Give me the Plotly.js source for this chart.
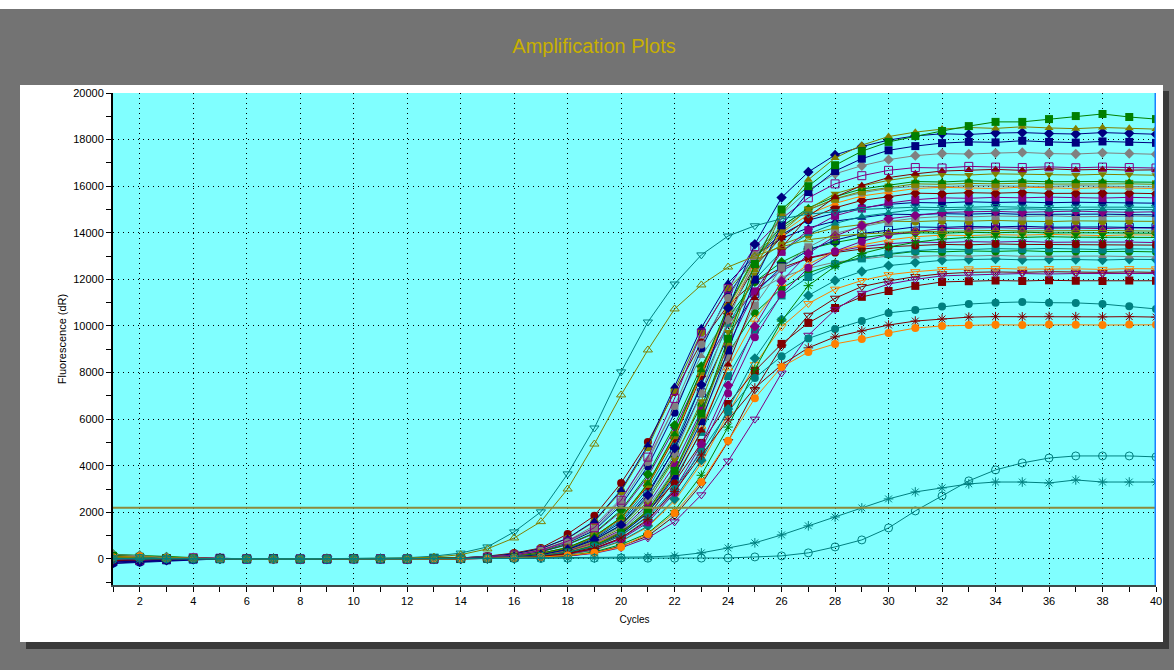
<!DOCTYPE html>
<html>
<head>
<meta charset="utf-8">
<script src="https://cdn.plot.ly/plotly-3.0.1.min.js"></script>
<style>
html,body{margin:0;padding:0;background:#737373;}
#chart{width:1174px;height:670px;}
</style>
</head>
<body>
<div id="chart"></div>
<script>
// ---------- DATA ----------
const cycles = [1,2,3,4,5,6,7,8,9,10,11,12,13,14,15,16,17,18,19,20,21,22,23,24,25,26,27,28,29,30,31,32,33,34,35,36,37,38,39,40];
const xTickVals = [2,4,6,8,10,12,14,16,18,20,22,24,26,28,30,32,34,36,38,40];
const yTickVals = [0,2000,4000,6000,8000,10000,12000,14000,16000,18000,20000];
const THRESHOLD = 2200;

const sGreenSquare = [130,90,40,20,10,0,10,-10,0,10,0,-10,10,10,20,60,130,280,570,1130,2080,3780,6240,9450,12660,15000,16000,16900,17500,17900,18150,18370,18580,18760,18760,18880,19010,19100,18970,18880];
const sOliveTri = [60,100,30,40,20,10,0,-10,10,0,-10,10,0,10,20,55,130,280,555,1110,2040,3700,6110,9250,12400,14800,16280,17210,17760,18130,18320,18450,18520,18480,18550,18500,18470,18520,18490,18450];
const sNavyDiamond = [-180,-120,-60,-20,10,20,0,10,-10,0,10,0,-10,10,40,90,180,400,820,1460,2740,4750,7480,10770,13510,15510,16610,17340,17700,17980,18160,18250,18220,18280,18300,18260,18240,18300,18270,18230];
const sNavySquare = [-90,-40,-30,0,20,-10,10,0,0,10,-10,0,10,10,20,50,125,270,540,1070,1970,3580,5910,8950,11990,14320,15750,16650,17180,17540,17720,17850,17900,17880,17950,17900,17870,17920,17900,17860];
const sGrayDiamond = [180,140,60,30,0,10,-10,10,0,-10,0,10,0,10,35,90,175,380,780,1390,2610,4520,7130,10270,12880,14790,15830,16530,16880,17140,17310,17400,17380,17420,17450,17400,17380,17430,17400,17370];
const sPurpleSqOpen = [20,-60,10,50,30,0,10,-10,0,10,0,-10,10,30,80,170,370,760,1340,2520,4370,6890,9700,11600,13400,14600,15500,16100,16450,16680,16800,16780,16850,16820,16800,16830,16790,16820,16800,16780];
const sMaroonTri = [120,80,40,20,10,0,10,-10,0,10,0,-10,10,10,20,50,120,250,500,1000,1840,3340,5510,8350,11190,13360,14700,15530,16030,16370,16530,16650,16700,16720,16680,16750,16700,16720,16690,16700];
const sOliveTriDown = [90,60,50,20,10,0,-10,10,0,0,10,-10,0,10,35,80,165,360,740,1320,2480,4290,6770,9740,12210,14030,15020,15680,16010,16250,16420,16500,16480,16530,16520,16500,16480,16510,16500,16470];
const sGreenTri = [150,110,70,30,10,20,0,10,-10,0,10,0,0,15,50,110,240,490,970,1780,3240,5350,8100,10850,12960,14260,15070,15550,15880,16040,16200,16180,16230,16200,16220,16190,16210,16200,16180,16170];
const sGrayCircle = [-60,-20,20,10,0,10,-10,0,10,0,-10,10,0,30,80,160,350,720,1280,2400,4160,6560,9200,11200,13100,14300,15000,15450,15720,15900,16000,15980,16020,16000,16010,15990,16020,16000,15980,15970];
const sOrangeTri = [100,40,0,-20,10,0,10,0,-10,10,0,0,10,15,50,110,240,480,950,1750,3180,5250,7950,10650,12720,13990,14790,15260,15580,15740,15900,15950,15920,15900,15960,15930,15900,15940,15910,15900];
const sPurpleSquare = [-90,-40,-30,0,20,-10,10,0,0,10,-10,0,10,10,30,80,155,340,700,1240,2330,4030,6360,9150,11470,13180,14110,14730,15040,15270,15420,15500,15480,15520,15500,15530,15510,15490,15520,15500];
const sNavyCircle = [-200,-150,-70,-30,0,10,-10,10,0,-10,0,10,0,30,80,150,340,690,1220,2300,3980,6270,9030,11320,13010,13920,14540,14840,15070,15220,15300,15280,15330,15300,15320,15290,15310,15300,15280,15270];
const sTealTri = [40,80,50,20,0,10,0,-10,10,0,0,10,-10,15,45,105,225,450,900,1650,3000,4950,7500,10050,12000,13200,13950,14400,14700,14850,15000,14980,15020,15000,15030,15000,14980,15010,15000,14990];
const sPurpleDiamond = [20,-60,10,50,30,0,10,-10,0,10,0,-10,10,10,20,45,105,220,450,890,1640,2980,4920,7450,9980,11920,13110,13860,14300,14600,14750,14870,14900,14920,14880,14900,14930,14900,14880,14900];
const sGraySquare = [110,70,20,0,-10,10,0,10,0,-10,10,0,0,10,30,75,150,320,660,1180,2210,3820,6030,8670,10880,12500,13380,13970,14260,14480,14630,14700,14680,14720,14700,14730,14690,14700,14720,14700];
const sOliveCircle = [70,30,-20,0,20,10,0,-10,10,0,-10,0,10,45,100,220,440,870,1600,2900,4790,7250,9720,11600,12760,13490,13920,14210,14360,14500,14480,14520,14500,14530,14500,14480,14510,14500,14520,14490];
const sNavySqOpen = [-120,-80,-40,-10,10,0,10,0,-10,0,10,0,-10,15,45,100,210,430,860,1570,2850,4700,7130,9550,11400,12540,13250,13680,13970,14110,14250,14230,14270,14250,14280,14240,14260,14250,14230,14220];
const sGreenDiamond = [200,150,80,30,10,0,10,-10,0,10,0,10,0,30,70,140,310,630,1120,2100,3640,5740,8260,10360,11900,12740,13300,13580,13790,13930,14000,13980,14020,14000,14030,13990,14000,14010,13990,13980];
const sOrangeTriOpen = [160,120,50,20,0,10,0,10,-10,0,10,0,0,10,30,70,140,310,630,1110,2090,3610,5700,8200,10290,11820,12650,13210,13480,13690,13830,13900,13880,13920,13900,13930,13900,13880,13910,13900];
const sMaroonCircle = [-50,0,30,20,10,0,-10,10,0,10,0,-10,20,40,120,250,470,1070,1850,3260,5020,7170,9300,10900,11900,12500,12900,13150,13300,13400,13450,13500,13480,13520,13500,13490,13510,13500,13480,13470];
const sPurpleTriDown = [-150,-100,-40,0,20,10,0,-10,0,10,0,0,10,30,70,140,300,610,1090,2040,3540,5580,8020,10060,11560,12380,12920,13190,13400,13530,13600,13580,13620,13600,13630,13590,13600,13610,13600,13580];
const sTealSquare = [90,50,20,10,0,-10,10,0,10,0,-10,0,10,10,25,65,135,290,600,1060,2000,3460,5450,7850,9840,11310,12100,12640,12900,13100,13230,13300,13280,13320,13300,13330,13300,13280,13310,13300];
const sGreenCircle = [30,-30,0,20,10,0,10,-10,0,0,10,-10,0,15,40,90,200,400,790,1450,2640,4360,6600,8840,10560,11620,12280,12670,12940,13070,13200,13180,13220,13200,13230,13190,13200,13210,13200,13180];
const sGrayTri = [120,60,30,10,0,10,-10,0,10,0,0,-10,10,40,90,200,390,780,1430,2600,4290,6500,8710,10400,11440,12090,12480,12740,12870,13000,12980,13020,13000,13030,12990,13000,13010,13000,12980,12970];
const sTealDiamond = [-30,-60,-20,10,20,0,10,0,-10,10,0,0,10,10,20,40,90,190,390,770,1410,2570,4240,6430,8610,10280,11310,11950,12340,12590,12720,12820,12850,12870,12840,12860,12850,12830,12860,12850];
const sOrangeTriDownOpen = [140,90,40,10,0,10,0,-10,10,0,0,10,0,10,20,40,90,190,370,750,1370,2490,4110,6230,8340,9960,10960,11580,11950,12200,12330,12420,12450,12470,12440,12460,12450,12430,12460,12450];
const sMaroonTriDownOpen = [60,20,10,30,10,0,-10,0,10,0,-10,10,0,0,10,25,60,120,270,550,980,1850,3200,5040,7260,9100,10460,11190,11690,11930,12120,12240,12300,12320,12300,12330,12310,12300,12320,12300];
const sMaroonSquare = [-100,-60,-20,10,0,10,0,-10,0,10,0,0,-10,20,60,120,220,380,620,1160,2030,3300,4980,6650,8070,9230,10130,10770,11250,11500,11720,11890,11920,11950,11930,11960,11940,11930,11950,11940];
const sPurpleTriDownOpen = [-60,-90,-40,0,10,0,-10,10,0,0,10,-10,0,0,10,30,60,120,240,480,900,1590,2750,4200,6000,7980,9600,10700,11400,11800,12000,12150,12200,12220,12250,12230,12250,12240,12260,12250];
const sNavyTri = [-80,-130,-50,-10,10,0,10,0,-10,0,10,0,10,45,100,220,440,890,1630,2960,4880,7400,9920,11840,13020,13760,14210,14500,14650,14800,14780,14820,14800,14830,14790,14800,14810,14800,14780,14770];
const sOliveSquare = [50,10,40,20,0,10,-10,0,10,0,0,10,-10,15,50,110,240,480,970,1770,3220,5310,8050,10790,12880,14170,14970,15460,15780,15940,16100,16080,16120,16100,16130,16090,16100,16110,16100,16080];
const sGreenStar = [100,50,30,0,10,0,-10,10,0,-10,0,10,0,0,10,30,70,140,300,620,1100,2070,3590,5660,8140,10210,11730,12560,13110,13390,13590,13730,13800,13820,13800,13830,13810,13800,13820,13800];
const sMaroonDiamond = [-40,20,0,10,20,0,10,-10,0,10,0,-10,0,15,45,110,240,470,940,1730,3140,5180,7850,10520,12560,13820,14600,15070,15390,15540,15700,15680,15720,15700,15730,15690,15700,15710,15700,15680];
const sPurpleCircle = [80,120,60,20,0,10,0,-10,0,10,0,0,10,10,20,45,100,210,430,850,1560,2840,4690,7100,9510,11360,12500,13210,13630,13920,14060,14180,14200,14220,14190,14210,14200,14180,14210,14200];
const sTealCircle = [20,60,30,10,0,-10,10,0,0,10,-10,0,10,10,30,70,140,280,540,1000,1800,3000,4600,6300,7770,8700,9460,9870,10210,10560,10690,10830,10940,11000,11030,11000,10990,10940,10850,10730];
const sMaroonStar = [-70,-30,10,20,0,10,0,-10,10,0,0,-10,0,10,20,50,110,230,450,900,1700,2900,4460,5970,7340,8330,9060,9530,9790,10040,10210,10300,10380,10400,10390,10410,10400,10390,10400,10380];
const sOrangeCircle = [70,110,40,20,10,0,-10,10,0,0,10,0,-10,0,20,40,80,150,260,515,1070,1970,3300,5070,6900,8240,8880,9230,9440,9700,9910,10000,10040,10050,10040,10060,10050,10040,10060,10050];
const sTealTriDownOpen = [40,90,20,10,0,10,0,-10,10,20,30,50,120,250,515,1160,2020,3650,5620,8030,10170,11800,13050,13860,14300,14600,14800,14900,15000,15050,15100,15080,15100,15120,15100,15080,15100,15110,15100,15090];
const sOliveTriOpen = [80,50,10,20,10,0,-10,0,10,10,20,30,80,180,430,900,1600,3000,4930,7040,8970,10730,11760,12530,13000,13400,13700,13850,13950,14000,14050,14060,14080,14100,14080,14100,14090,14100,14080,14070];
const sTealStar = [30,-20,10,0,20,10,0,-10,10,0,10,0,10,20,0,10,30,30,40,50,85,130,260,470,690,1030,1420,1800,2190,2575,2875,3050,3220,3300,3300,3260,3390,3300,3300,3300];
const sTealCircleOpen = [-20,30,0,10,-10,0,10,0,-10,10,0,10,0,10,20,10,20,30,30,40,30,30,35,40,85,130,260,515,815,1330,2060,2700,3350,3820,4120,4330,4420,4420,4420,4380];

// ---------- STYLES ----------
const C = {green:'#008000', navy:'#000080', olive:'#808000', gray:'#808080', purple:'#800080', maroon:'#800000', teal:'#008080', orange:'#ff8000'};
const traceDefs = [
  [sMaroonTriDownOpen, C.maroon, 'triangle-down-open'],
  [sOrangeTriDownOpen, C.orange, 'triangle-down-open'],
  [sMaroonSquare, C.maroon, 'square'],
  [sPurpleTriDownOpen, C.purple, 'triangle-down-open'],
  [sTealDiamond, C.teal, 'diamond'],
  [sGrayTri, C.gray, 'triangle-up'],
  [sGreenCircle, C.green, 'circle'],
  [sTealSquare, C.teal, 'square'],
  [sPurpleTriDown, C.purple, 'triangle-down'],
  [sMaroonCircle, C.maroon, 'circle'],
  [sOrangeTriOpen, C.orange, 'triangle-up-open'],
  [sGreenStar, C.green, 'asterisk-open'],
  [sGreenDiamond, C.green, 'diamond'],
  [sPurpleCircle, C.purple, 'circle'],
  [sNavySqOpen, C.navy, 'square-open'],
  [sOliveCircle, C.olive, 'circle'],
  [sGraySquare, C.gray, 'square'],
  [sNavyTri, C.navy, 'triangle-up'],
  [sPurpleDiamond, C.purple, 'diamond'],
  [sTealTri, C.teal, 'triangle-up'],
  [sNavyCircle, C.navy, 'circle'],
  [sPurpleSquare, C.purple, 'square'],
  [sMaroonDiamond, C.maroon, 'diamond'],
  [sOrangeTri, C.orange, 'triangle-up'],
  [sGrayCircle, C.gray, 'circle'],
  [sOliveSquare, C.olive, 'square'],
  [sGreenTri, C.green, 'triangle-up'],
  [sOliveTriDown, C.olive, 'triangle-down'],
  [sMaroonTri, C.maroon, 'triangle-up'],
  [sPurpleSqOpen, C.purple, 'square-open'],
  [sGrayDiamond, C.gray, 'diamond'],
  [sNavySquare, C.navy, 'square'],
  [sNavyDiamond, C.navy, 'diamond'],
  [sOliveTri, C.olive, 'triangle-up'],
  [sGreenSquare, C.green, 'square'],
  [sTealCircle, C.teal, 'circle'],
  [sMaroonStar, C.maroon, 'asterisk-open'],
  [sOrangeCircle, C.orange, 'circle'],
  [sTealTriDownOpen, C.teal, 'triangle-down-open'],
  [sOliveTriOpen, C.olive, 'triangle-up-open'],
  [sTealStar, C.teal, 'asterisk-open'],
  [sTealCircleOpen, C.teal, 'circle-open']
];

const traces = traceDefs.map(([y, color, symbol]) => {
  const open = symbol.indexOf('open') >= 0;
  return {
    x: cycles, y: y, type: 'scatter', mode: 'lines+markers',
    line: {color: color, width: 1},
    marker: {symbol: symbol, size: 8, color: color,
             line: {color: color, width: open ? 1 : 0}},
    hoverinfo: 'skip', showlegend: false
  };
});

// ---------- LAYOUT ----------
const W = 1174, H = 670;
const M = {l: 113, r: 18, t: 93, b: 85};
const pw = W - M.l - M.r, ph = H - M.t - M.b;
const px = v => (v - M.l) / pw;          // pixel -> paper x
const py = v => (H - M.b - v) / ph;      // pixel -> paper y

const FONT = 'Liberation Sans, Arial, sans-serif';
const layout = {
  width: W, height: H,
  margin: M,
  paper_bgcolor: '#737373',
  plot_bgcolor: '#80ffff',
  showlegend: false,
  font: {family: FONT, color: '#000'},
  title: {
    text: 'Amplification Plots',
    font: {family: FONT, size: 20, color: '#c8b000'},
    x: 594 / W, xanchor: 'center', xref: 'container',
    y: 1 - 46 / H, yanchor: 'middle', yref: 'container'
  },
  xaxis: {
    range: [1, 40], tickmode: 'array', tickvals: xTickVals,
    ticks: 'outside', ticklen: 5, tickcolor: '#000', tickwidth: 1,
    minor: {dtick: 1, tick0: 1, ticks: 'outside', ticklen: 5, tickcolor: '#000', showgrid: false},
    showgrid: true, gridcolor: '#000', griddash: '1px,4px', gridwidth: 1,
    showline: true, linecolor: '#3c4a4a', linewidth: 2,
    zeroline: false, tickfont: {size: 11, color: '#000'},
    title: {text: 'Cycles', font: {size: 10, color: '#000'}, standoff: 10}
  },
  yaxis: {
    range: [-1120, 20000], tickmode: 'array', tickvals: yTickVals, tickformat: 'd',
    ticks: 'outside', ticklen: 5, tickcolor: '#000', tickwidth: 1,
    minor: {dtick: 1000, tick0: 0, ticks: 'outside', ticklen: 5, tickcolor: '#000', showgrid: false},
    showgrid: true, gridcolor: '#000', griddash: '1px,4px', gridwidth: 1,
    showline: true, linecolor: '#000', linewidth: 2,
    zeroline: false, tickfont: {size: 11, color: '#000'},
    title: {text: 'Fluorescence (dR)', font: {size: 11, color: '#000'}, standoff: 4}
  },
  shapes: [
    {type: 'rect', xref: 'paper', yref: 'paper', layer: 'below',
     x0: px(-5), x1: px(W + 5), y0: py(9), y1: py(-5), fillcolor: '#ffffff', line: {width: 0}},
    {type: 'rect', xref: 'paper', yref: 'paper', layer: 'below',
     x0: px(26), x1: px(1169), y0: py(649), y1: py(91), fillcolor: '#3a3a3a', line: {width: 0}},
    {type: 'rect', xref: 'paper', yref: 'paper', layer: 'below',
     x0: px(20), x1: px(1163), y0: py(642), y1: py(85), fillcolor: '#ffffff', line: {width: 0}},
    {type: 'rect', xref: 'paper', yref: 'paper', layer: 'below',
     x0: 0, x1: 1, y0: 0, y1: 1, fillcolor: '#80ffff', line: {width: 0}},
    {type: 'line', xref: 'x', yref: 'y', x0: cycles[0], x1: cycles[cycles.length - 1],
     y0: THRESHOLD, y1: THRESHOLD, line: {color: '#8c8a3c', width: 2}},
    {type: 'line', xref: 'x', yref: 'paper', x0: cycles[cycles.length - 1], x1: cycles[cycles.length - 1],
     y0: 0, y1: 1, line: {color: '#1a80ff', width: 3}}
  ]
};

Plotly.newPlot('chart', traces, layout, {displayModeBar: false, staticPlot: true});
</script>
</body>
</html>
